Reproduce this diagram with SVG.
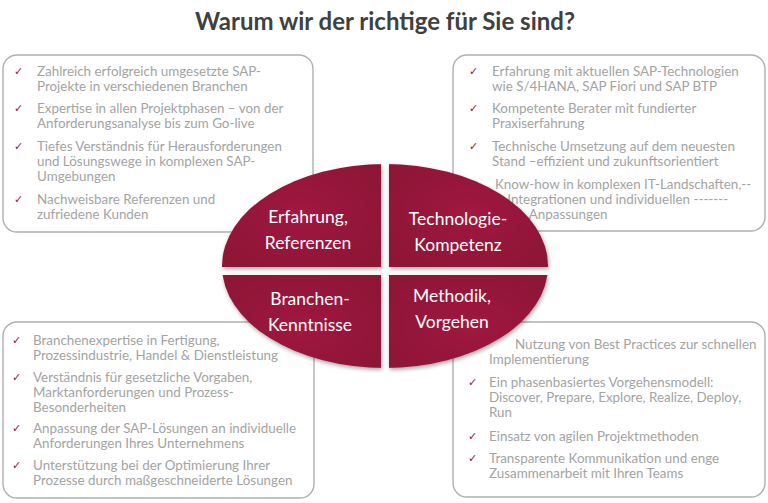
<svg xmlns="http://www.w3.org/2000/svg" width="768" height="503" viewBox="0 0 768 503">
<style>
.box{fill:#fff;stroke:#b0b0b0;stroke-width:1.4}
.t{font-family:Lato,"Liberation Sans",sans-serif;font-size:13.4px;fill:#a3a3a3}
.c{font-family:"DejaVu Sans",sans-serif;font-size:11px;fill:#8c1c3c}
.q{fill:url(#g)}
.l{font-family:Lato,"Liberation Sans",sans-serif;font-size:17.5px;fill:#fff;text-anchor:middle}
</style>
<defs>
<radialGradient id="g" cx="0.5" cy="0.5" r="0.6"><stop offset="0" stop-color="#a01a40"/><stop offset="1" stop-color="#8e1536"/></radialGradient>
<clipPath id="e"><ellipse cx="385" cy="266" rx="163" ry="102"/></clipPath>
<filter id="s" x="-10%" y="-10%" width="120%" height="130%"><feDropShadow dx="1" dy="2" stdDeviation="2" flood-opacity="0.35"/></filter>
</defs>
<rect width="768" height="503" fill="#fff"/>
<text x="385" y="30" text-anchor="middle" font-family="Lato,'Liberation Sans',sans-serif" font-weight="bold" font-size="24" fill="#404040">Warum wir der richtige für Sie sind?</text>
<g id="box-tl">
<rect class="box" x="3" y="55" width="310" height="177" rx="14"/>
<text class="c" x="14" y="75">✓</text><text class="c" x="14" y="112">✓</text><text class="c" x="14" y="150">✓</text><text class="c" x="14" y="203">✓</text>
<text class="t" x="37" y="76">Zahlreich erfolgreich umgesetzte SAP-</text>
<text class="t" x="37" y="91">Projekte in verschiedenen Branchen</text>
<text class="t" x="37" y="113">Expertise in allen Projektphasen – von der</text>
<text class="t" x="37" y="128">Anforderungsanalyse bis zum Go-live</text>
<text class="t" x="37" y="151">Tiefes Verständnis für Herausforderungen</text>
<text class="t" x="37" y="166">und Lösungswege in komplexen SAP-</text>
<text class="t" x="37" y="181">Umgebungen</text>
<text class="t" x="37" y="204">Nachweisbare Referenzen und</text>
<text class="t" x="37" y="219">zufriedene Kunden</text>
</g>
<g id="box-tr">
<rect class="box" x="453" y="55" width="312" height="176" rx="14"/>
<text class="c" x="469" y="75">✓</text><text class="c" x="469" y="112">✓</text><text class="c" x="469" y="150">✓</text>
<text class="t" x="492" y="76">Erfahrung mit aktuellen SAP-Technologien</text>
<text class="t" x="492" y="91">wie S/4HANA, SAP Fiori und SAP BTP</text>
<text class="t" x="492" y="113">Kompetente Berater mit fundierter</text>
<text class="t" x="492" y="128">Praxiserfahrung</text>
<text class="t" x="492" y="151">Technische Umsetzung auf dem neuesten</text>
<text class="t" x="492" y="166">Stand –effizient und zukunftsorientiert</text>
<text class="t" x="495" y="189">Know-how in komplexen IT-Landschaften,--</text>
<text class="t" x="474" y="204">------ Integrationen und individuellen -------</text>
<text class="t" x="496" y="219">------ Anpassungen</text>
</g>
<g id="box-bl">
<rect class="box" x="3" y="322" width="311" height="176" rx="14"/>
<text class="c" x="12" y="344">✓</text><text class="c" x="12" y="381">✓</text><text class="c" x="12" y="432">✓</text><text class="c" x="12" y="469">✓</text>
<text class="t" x="33" y="345">Branchenexpertise in Fertigung,</text>
<text class="t" x="33" y="360">Prozessindustrie, Handel &amp; Dienstleistung</text>
<text class="t" x="33" y="382">Verständnis für gesetzliche Vorgaben,</text>
<text class="t" x="33" y="397">Marktanforderungen und Prozess-</text>
<text class="t" x="33" y="412">Besonderheiten</text>
<text class="t" x="33" y="433">Anpassung der SAP-Lösungen an individuelle</text>
<text class="t" x="33" y="448">Anforderungen Ihres Unternehmens</text>
<text class="t" x="33" y="470">Unterstützung bei der Optimierung Ihrer</text>
<text class="t" x="33" y="485">Prozesse durch maßgeschneiderte Lösungen</text>
</g>
<g id="box-br">
<rect class="box" x="453" y="322" width="312" height="175" rx="14"/>
<text class="c" x="468" y="386">✓</text><text class="c" x="468" y="440">✓</text><text class="c" x="468" y="462">✓</text>
<text class="t" x="515" y="349">Nutzung von Best Practices zur schnellen</text>
<text class="t" x="489" y="364">Implementierung</text>
<text class="t" x="489" y="387">Ein phasenbasiertes Vorgehensmodell:</text>
<text class="t" x="489" y="402">Discover, Prepare, Explore, Realize, Deploy,</text>
<text class="t" x="489" y="417">Run</text>
<text class="t" x="489" y="441">Einsatz von agilen Projektmethoden</text>
<text class="t" x="489" y="463">Transparente Kommunikation und enge</text>
<text class="t" x="489" y="478">Zusammenarbeit mit Ihren Teams</text>
</g>
<g id="center" filter="url(#s)">
<g clip-path="url(#e)">
<g id="q-erfahrung"><rect class="q" x="220" y="160" width="161" height="107"/></g>
<g id="q-technologie"><rect class="q" x="389" y="160" width="162" height="107"/></g>
<g id="q-branchen"><rect class="q" x="220" y="275" width="161" height="100"/></g>
<g id="q-methodik"><rect class="q" x="389" y="275" width="162" height="100"/></g>
</g>
</g>
<text class="l" x="308" y="223">Erfahrung,</text>
<text class="l" x="308" y="249">Referenzen</text>
<text class="l" x="458" y="225">Technologie-</text>
<text class="l" x="458" y="251">Kompetenz</text>
<text class="l" x="310" y="305">Branchen-</text>
<text class="l" x="310" y="331">Kenntnisse</text>
<text class="l" x="452" y="302">Methodik,</text>
<text class="l" x="452" y="328">Vorgehen</text>
<g id="connectors"/>
</svg>
